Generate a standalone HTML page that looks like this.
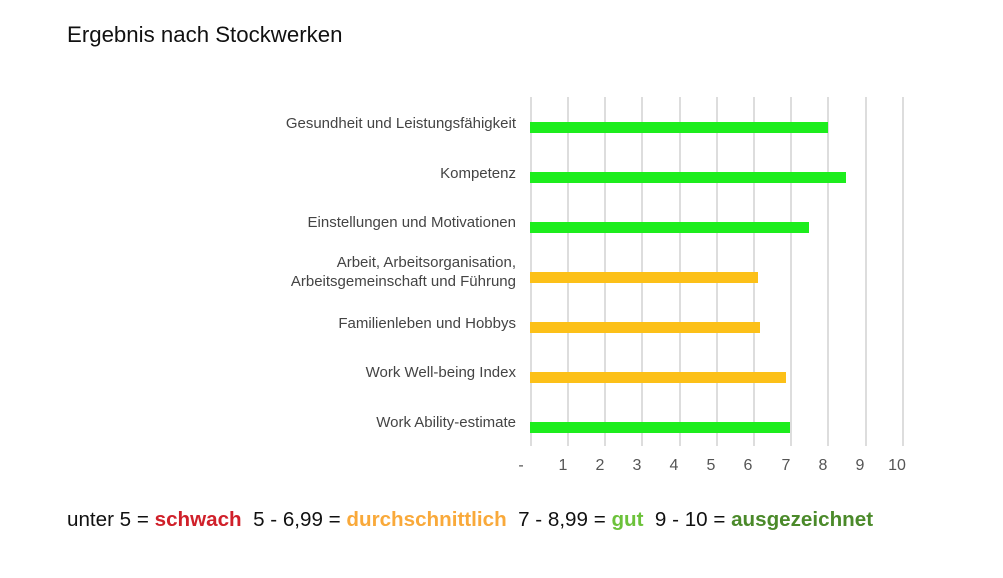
<!DOCTYPE html>
<html><head><meta charset="utf-8"><style>
body{margin:0;background:#fff;width:1003px;height:578px;overflow:hidden;position:relative;font-family:"Liberation Sans",sans-serif}
.t{position:absolute;left:67px;top:22px;font-size:22px;color:#111;white-space:nowrap;transform-origin:0 0;transform:scaleX(1.01)}
.lab{position:absolute;right:487px;font-size:15px;color:#444;text-align:right;white-space:nowrap;line-height:19px}
.g{position:absolute;top:97px;height:349px;width:1.5px;background:#ddd}
.b{position:absolute;left:530px;height:11px}
.tk{position:absolute;top:457px;font-size:16px;color:#555;width:30px;text-align:center;margin-left:-15px}
.leg{position:absolute;left:67px;top:509px;font-size:20px;color:#111;white-space:nowrap;transform-origin:0 0;transform:scaleX(1.03)}
.leg b{font-weight:bold}
</style></head><body>
<div class="t">Ergebnis nach Stockwerken</div>
<div class="g" style="left:530px"></div><div class="g" style="left:567px"></div><div class="g" style="left:604px"></div><div class="g" style="left:641px"></div><div class="g" style="left:679px"></div><div class="g" style="left:716px"></div><div class="g" style="left:753px"></div><div class="g" style="left:790px"></div><div class="g" style="left:827px"></div><div class="g" style="left:865px"></div><div class="g" style="left:902px"></div>
<div class="b" style="top:122px;width:298px;background:#1ded1d"></div>
<div class="b" style="top:172px;width:316px;background:#1ded1d"></div>
<div class="b" style="top:222px;width:279px;background:#1ded1d"></div>
<div class="b" style="top:272px;width:228px;background:#fcc018"></div>
<div class="b" style="top:322px;width:230px;background:#fcc018"></div>
<div class="b" style="top:372px;width:256px;background:#fcc018"></div>
<div class="b" style="top:422px;width:260px;background:#1ded1d"></div>
<div class="lab" style="top:114px">Gesundheit und Leistungsfähigkeit</div>
<div class="lab" style="top:164px">Kompetenz</div>
<div class="lab" style="top:213px">Einstellungen und Motivationen</div>
<div class="lab" style="top:253px">Arbeit, Arbeitsorganisation,<br>Arbeitsgemeinschaft und Führung</div>
<div class="lab" style="top:314px">Familienleben und Hobbys</div>
<div class="lab" style="top:363px">Work Well-being Index</div>
<div class="lab" style="top:413px">Work Ability-estimate</div>
<div class="tk" style="left:521px">-</div><div class="tk" style="left:563px">1</div><div class="tk" style="left:600px">2</div><div class="tk" style="left:637px">3</div><div class="tk" style="left:674px">4</div><div class="tk" style="left:711px">5</div><div class="tk" style="left:748px">6</div><div class="tk" style="left:786px">7</div><div class="tk" style="left:823px">8</div><div class="tk" style="left:860px">9</div><div class="tk" style="left:897px">10</div>
<div class="leg">unter 5 = <b style="color:#d0202a">schwach</b>&nbsp; 5 - 6,99 = <b style="color:#f9a93a">durchschnittlich</b>&nbsp; 7 - 8,99 = <b style="color:#6cc23a">gut</b>&nbsp; 9 - 10 = <b style="color:#4b8a2a">ausgezeichnet</b></div>
</body></html>
